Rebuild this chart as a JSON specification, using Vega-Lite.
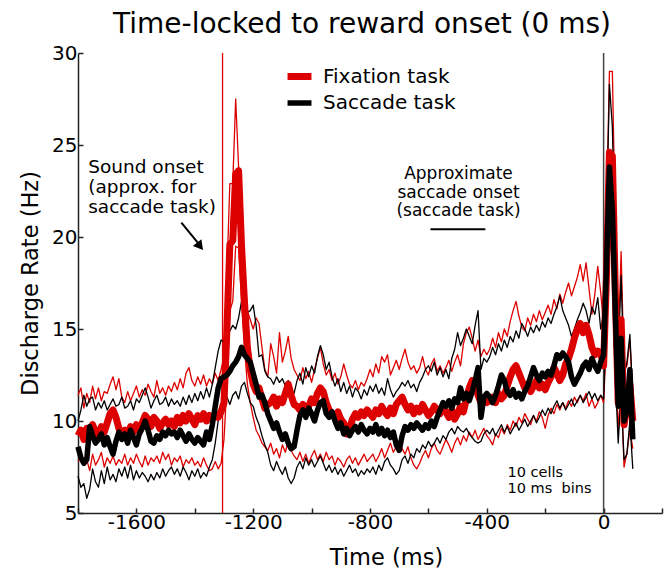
{
  "$schema": "https://vega.github.io/schema/vega-lite/v6.json",
  "width": 584,
  "height": 460,
  "autosize": "none",
  "padding": {"left": 78, "top": 53, "right": 6, "bottom": 60},
  "background": "white",
  "title": {"text": "Time-locked to reward onset (0 ms)", "fontSize": 28, "fontWeight": "normal", "font": "DejaVu Sans", "color": "black", "anchor": "middle", "frame": "group", "offset": 4, "dx": -8},
  "config": {
    "view": {"stroke": null},
    "font": "DejaVu Sans",
    "axis": {"grid": false, "domainColor": "#222", "tickColor": "#222", "domainWidth": 1.5, "tickWidth": 1.5, "tickSize": -5, "labelFont": "DejaVu Sans", "labelFontSize": 20, "labelColor": "black", "titleFont": "DejaVu Sans", "titleFontSize": 22.5, "titleFontWeight": "normal", "titleColor": "black"}
  },
  "datasets": {
    "psth": [
      {"t":-1800,"fm":9.2,"fl":7.8,"fh":11.4,"sm":8.6,"sl":7.0,"sh":10.0},
      {"t":-1790,"fm":9.5,"fl":8.1,"fh":11.8,"sm":8.0,"sl":6.4,"sh":10.6},
      {"t":-1780,"fm":9.0,"fl":7.6,"fh":10.7,"sm":7.7,"sl":6.6,"sh":11.4},
      {"t":-1770,"fm":9.6,"fl":7.9,"fh":11.5,"sm":7.9,"sl":5.8,"sh":10.8},
      {"t":-1760,"fm":9.3,"fl":7.3,"fh":11.0,"sm":9.7,"sl":6.3,"sh":11.2},
      {"t":-1750,"fm":9.8,"fl":8.2,"fh":11.9,"sm":9.2,"sl":7.4,"sh":11.3},
      {"t":-1740,"fm":9.4,"fl":7.6,"fh":11.2,"sm":8.8,"sl":6.7,"sh":10.6},
      {"t":-1730,"fm":9.1,"fl":7.9,"fh":11.8,"sm":9.0,"sl":6.4,"sh":11.0},
      {"t":-1720,"fm":9.7,"fl":8.3,"fh":11.1,"sm":9.3,"sl":7.3,"sh":10.7},
      {"t":-1710,"fm":9.4,"fl":7.5,"fh":11.6,"sm":8.7,"sl":6.6,"sh":11.1},
      {"t":-1700,"fm":9.9,"fl":8.0,"fh":11.5,"sm":9.1,"sl":7.5,"sh":10.6},
      {"t":-1690,"fm":10.4,"fl":7.7,"fh":12.0,"sm":8.6,"sl":6.8,"sh":10.9},
      {"t":-1680,"fm":10.6,"fl":8.1,"fh":12.4,"sm":8.2,"sl":7.1,"sh":11.2},
      {"t":-1670,"fm":10.2,"fl":7.6,"fh":11.7,"sm":8.9,"sl":6.7,"sh":10.8},
      {"t":-1660,"fm":9.6,"fl":7.9,"fh":12.3,"sm":9.4,"sl":7.4,"sh":10.9},
      {"t":-1650,"fm":9.3,"fl":7.7,"fh":11.3,"sm":9.0,"sl":7.0,"sh":11.3},
      {"t":-1640,"fm":9.5,"fl":8.2,"fh":11.0,"sm":9.3,"sl":7.5,"sh":10.7},
      {"t":-1630,"fm":9.2,"fl":7.6,"fh":11.6,"sm":8.8,"sl":6.9,"sh":10.8},
      {"t":-1620,"fm":9.7,"fl":8.0,"fh":11.1,"sm":9.5,"sl":7.6,"sh":11.1},
      {"t":-1610,"fm":9.4,"fl":7.7,"fh":11.5,"sm":9.1,"sl":6.8,"sh":10.6},
      {"t":-1600,"fm":9.8,"fl":8.2,"fh":11.9,"sm":8.7,"sl":7.3,"sh":11.2},
      {"t":-1590,"fm":9.5,"fl":7.8,"fh":11.3,"sm":9.3,"sl":6.9,"sh":11.0},
      {"t":-1580,"fm":9.9,"fl":7.5,"fh":11.7,"sm":9.6,"sl":7.2,"sh":11.4},
      {"t":-1570,"fm":10.3,"fl":8.1,"fh":11.4,"sm":10.0,"sl":7.0,"sh":11.8},
      {"t":-1560,"fm":10.1,"fl":7.6,"fh":12.0,"sm":9.5,"sl":6.7,"sh":11.3},
      {"t":-1550,"fm":9.7,"fl":8.0,"fh":11.6,"sm":8.9,"sl":7.1,"sh":10.7},
      {"t":-1540,"fm":10.2,"fl":7.8,"fh":11.3,"sm":8.8,"sl":6.8,"sh":11.1},
      {"t":-1530,"fm":10.0,"fl":8.1,"fh":12.2,"sm":9.2,"sl":7.2,"sh":11.4},
      {"t":-1520,"fm":9.6,"fl":7.7,"fh":11.5,"sm":9.0,"sl":6.9,"sh":10.9},
      {"t":-1510,"fm":9.9,"fl":8.3,"fh":11.8,"sm":9.4,"sl":7.4,"sh":11.0},
      {"t":-1500,"fm":10.1,"fl":7.9,"fh":11.4,"sm":9.2,"sl":7.0,"sh":11.3},
      {"t":-1490,"fm":9.8,"fl":8.2,"fh":11.9,"sm":9.5,"sl":7.3,"sh":10.8},
      {"t":-1480,"fm":10.0,"fl":7.6,"fh":11.6,"sm":9.3,"sl":7.5,"sh":11.2},
      {"t":-1470,"fm":9.7,"fl":8.0,"fh":12.1,"sm":9.4,"sl":7.1,"sh":10.9},
      {"t":-1460,"fm":10.2,"fl":7.8,"fh":11.7,"sm":9.1,"sl":7.4,"sh":11.1},
      {"t":-1450,"fm":9.9,"fl":8.1,"fh":12.3,"sm":9.5,"sl":7.0,"sh":10.8},
      {"t":-1440,"fm":10.3,"fl":7.5,"fh":11.8,"sm":9.2,"sl":7.5,"sh":11.3},
      {"t":-1430,"fm":10.0,"fl":7.9,"fh":12.6,"sm":8.9,"sl":7.2,"sh":10.9},
      {"t":-1420,"fm":10.4,"fl":7.7,"fh":12.9,"sm":9.3,"sl":6.8,"sh":11.4},
      {"t":-1410,"fm":10.1,"fl":8.0,"fh":12.2,"sm":9.0,"sl":7.3,"sh":11.0},
      {"t":-1400,"fm":9.8,"fl":7.6,"fh":11.9,"sm":8.8,"sl":7.0,"sh":11.5},
      {"t":-1390,"fm":10.3,"fl":7.8,"fh":12.4,"sm":9.1,"sl":7.4,"sh":11.1},
      {"t":-1380,"fm":10.1,"fl":7.5,"fh":12.0,"sm":8.9,"sl":6.9,"sh":11.6},
      {"t":-1370,"fm":10.4,"fl":8.0,"fh":12.5,"sm":8.7,"sl":7.2,"sh":11.2},
      {"t":-1360,"fm":10.0,"fl":7.6,"fh":11.9,"sm":9.4,"sl":7.0,"sh":11.8},
      {"t":-1350,"fm":10.3,"fl":7.3,"fh":12.3,"sm":9.0,"sl":7.5,"sh":11.3},
      {"t":-1340,"fm":10.1,"fl":7.4,"fh":12.0,"sm":9.8,"sl":7.9,"sh":12.0},
      {"t":-1330,"fm":10.4,"fl":7.8,"fh":12.6,"sm":10.8,"sl":8.8,"sh":12.9},
      {"t":-1320,"fm":10.2,"fl":7.4,"fh":12.2,"sm":11.8,"sl":10.0,"sh":13.8},
      {"t":-1310,"fm":10.5,"fl":7.7,"fh":12.8,"sm":12.3,"sl":10.5,"sh":14.4},
      {"t":-1300,"fm":11.0,"fl":9.0,"fh":13.5,"sm":12.4,"sl":10.8,"sh":14.3},
      {"t":-1290,"fm":15.0,"fl":12.0,"fh":18.0,"sm":12.5,"sl":11.3,"sh":14.6},
      {"t":-1280,"fm":19.6,"fl":16.0,"fh":22.9,"sm":12.7,"sl":10.9,"sh":14.9},
      {"t":-1270,"fm":19.8,"fl":16.5,"fh":22.9,"sm":13.0,"sl":11.4,"sh":15.2},
      {"t":-1260,"fm":23.4,"fl":19.5,"fh":27.5,"sm":13.2,"sl":11.6,"sh":15.0},
      {"t":-1250,"fm":23.6,"fl":19.4,"fh":23.8,"sm":13.5,"sl":11.2,"sh":15.6},
      {"t":-1240,"fm":19.5,"fl":16.5,"fh":21.0,"sm":14.0,"sl":11.9,"sh":16.5},
      {"t":-1230,"fm":16.5,"fl":14.0,"fh":18.0,"sm":13.6,"sl":12.1,"sh":15.8},
      {"t":-1220,"fm":14.0,"fl":12.0,"fh":16.0,"sm":13.4,"sl":11.5,"sh":15.9},
      {"t":-1210,"fm":12.8,"fl":11.0,"fh":15.5,"sm":13.2,"sl":11.0,"sh":16.0},
      {"t":-1200,"fm":12.0,"fl":10.2,"fh":15.0,"sm":12.6,"sl":10.8,"sh":16.3},
      {"t":-1190,"fm":11.6,"fl":9.5,"fh":15.6,"sm":12.0,"sl":10.2,"sh":15.2},
      {"t":-1180,"fm":11.8,"fl":9.2,"fh":15.3,"sm":11.3,"sl":9.8,"sh":13.5},
      {"t":-1170,"fm":11.2,"fl":8.8,"fh":14.0,"sm":11.4,"sl":9.2,"sh":13.6},
      {"t":-1160,"fm":10.7,"fl":8.6,"fh":12.8,"sm":11.0,"sl":8.7,"sh":12.7},
      {"t":-1150,"fm":10.9,"fl":8.4,"fh":12.4,"sm":10.4,"sl":8.3,"sh":12.4},
      {"t":-1140,"fm":11.0,"fl":8.8,"fh":14.2,"sm":10.0,"sl":7.6,"sh":12.3},
      {"t":-1130,"fm":11.3,"fl":8.2,"fh":13.5,"sm":9.6,"sl":7.3,"sh":12.0},
      {"t":-1120,"fm":10.8,"fl":8.5,"fh":12.6,"sm":9.9,"sl":7.8,"sh":12.4},
      {"t":-1110,"fm":11.2,"fl":8.0,"fh":14.8,"sm":9.4,"sl":7.4,"sh":12.1},
      {"t":-1100,"fm":11.0,"fl":8.7,"fh":13.2,"sm":9.0,"sl":7.1,"sh":12.3},
      {"t":-1090,"fm":11.5,"fl":8.3,"fh":13.8,"sm":9.3,"sl":7.5,"sh":11.9},
      {"t":-1080,"fm":12.0,"fl":8.9,"fh":14.6,"sm":8.8,"sl":6.9,"sh":12.2},
      {"t":-1070,"fm":11.4,"fl":8.4,"fh":13.4,"sm":8.5,"sl":6.6,"sh":11.7},
      {"t":-1060,"fm":10.9,"fl":8.1,"fh":12.8,"sm":8.6,"sl":6.9,"sh":11.5},
      {"t":-1050,"fm":10.8,"fl":7.9,"fh":12.5,"sm":9.5,"sl":7.5,"sh":12.2},
      {"t":-1040,"fm":10.6,"fl":8.3,"fh":12.2,"sm":10.3,"sl":7.8,"sh":12.6},
      {"t":-1030,"fm":10.9,"fl":7.8,"fh":12.9,"sm":10.6,"sl":7.4,"sh":12.0},
      {"t":-1020,"fm":10.5,"fl":8.2,"fh":12.3,"sm":10.2,"sl":8.0,"sh":12.9},
      {"t":-1010,"fm":10.8,"fl":7.7,"fh":12.7,"sm":10.7,"sl":7.6,"sh":12.4},
      {"t":-1000,"fm":11.2,"fl":8.1,"fh":12.1,"sm":10.4,"sl":7.9,"sh":13.0},
      {"t":-990,"fm":11.0,"fl":8.4,"fh":12.8,"sm":10.0,"sl":7.5,"sh":12.6},
      {"t":-980,"fm":11.5,"fl":7.9,"fh":13.4,"sm":10.6,"sl":7.8,"sh":13.5},
      {"t":-970,"fm":11.8,"fl":8.2,"fh":14.0,"sm":11.0,"sl":8.1,"sh":14.1},
      {"t":-960,"fm":11.6,"fl":7.8,"fh":13.1,"sm":11.1,"sl":7.7,"sh":13.6},
      {"t":-950,"fm":11.0,"fl":8.3,"fh":12.5,"sm":10.4,"sl":7.3,"sh":12.8},
      {"t":-940,"fm":10.6,"fl":7.9,"fh":12.8,"sm":10.2,"sl":7.6,"sh":13.2},
      {"t":-930,"fm":10.4,"fl":8.1,"fh":12.2,"sm":10.5,"sl":7.2,"sh":12.4},
      {"t":-920,"fm":10.2,"fl":7.6,"fh":12.6,"sm":10.0,"sl":7.5,"sh":11.9},
      {"t":-910,"fm":10.5,"fl":8.0,"fh":12.0,"sm":9.6,"sl":7.1,"sh":12.3},
      {"t":-900,"fm":10.1,"fl":7.8,"fh":12.4,"sm":9.9,"sl":7.4,"sh":11.6},
      {"t":-890,"fm":9.9,"fl":7.5,"fh":13.1,"sm":9.3,"sl":7.0,"sh":12.1},
      {"t":-880,"fm":9.3,"fl":7.9,"fh":12.5,"sm":9.6,"sl":7.3,"sh":11.5},
      {"t":-870,"fm":9.6,"fl":8.1,"fh":12.0,"sm":9.2,"sl":7.6,"sh":11.9},
      {"t":-860,"fm":10.1,"fl":7.7,"fh":11.8,"sm":9.5,"sl":7.2,"sh":11.3},
      {"t":-850,"fm":10.4,"fl":8.0,"fh":12.2,"sm":9.7,"sl":7.4,"sh":11.8},
      {"t":-840,"fm":10.2,"fl":7.6,"fh":11.7,"sm":9.4,"sl":7.0,"sh":11.6},
      {"t":-830,"fm":10.5,"fl":7.9,"fh":12.1,"sm":9.8,"sl":7.3,"sh":11.2},
      {"t":-820,"fm":10.3,"fl":8.2,"fh":11.9,"sm":9.5,"sl":7.1,"sh":11.7},
      {"t":-810,"fm":10.6,"fl":7.8,"fh":12.3,"sm":9.3,"sl":7.4,"sh":11.4},
      {"t":-800,"fm":10.4,"fl":8.0,"fh":12.8,"sm":9.6,"sl":7.2,"sh":11.9},
      {"t":-790,"fm":10.2,"fl":8.2,"fh":12.4,"sm":9.4,"sl":7.5,"sh":11.6},
      {"t":-780,"fm":10.6,"fl":7.8,"fh":13.1,"sm":9.8,"sl":7.1,"sh":12.0},
      {"t":-770,"fm":10.4,"fl":8.1,"fh":12.6,"sm":9.3,"sl":7.6,"sh":11.5},
      {"t":-760,"fm":10.8,"fl":8.5,"fh":13.5,"sm":9.6,"sl":7.3,"sh":11.8},
      {"t":-750,"fm":10.5,"fl":8.0,"fh":13.2,"sm":9.2,"sl":7.8,"sh":11.4},
      {"t":-740,"fm":10.3,"fl":8.4,"fh":13.6,"sm":9.5,"sl":8.0,"sh":12.3},
      {"t":-730,"fm":10.7,"fl":8.8,"fh":12.5,"sm":9.1,"sl":7.6,"sh":11.7},
      {"t":-720,"fm":10.4,"fl":8.3,"fh":12.9,"sm":9.4,"sl":7.4,"sh":11.3},
      {"t":-710,"fm":10.9,"fl":8.6,"fh":13.3,"sm":8.7,"sl":7.1,"sh":11.6},
      {"t":-700,"fm":11.1,"fl":8.9,"fh":12.8,"sm":8.4,"sl":7.3,"sh":11.8},
      {"t":-690,"fm":11.3,"fl":8.5,"fh":13.4,"sm":9.2,"sl":7.9,"sh":12.1},
      {"t":-680,"fm":10.9,"fl":8.2,"fh":13.9,"sm":9.7,"sl":8.1,"sh":11.9},
      {"t":-670,"fm":10.6,"fl":8.6,"fh":13.2,"sm":9.5,"sl":7.7,"sh":12.2},
      {"t":-660,"fm":10.8,"fl":8.0,"fh":12.8,"sm":9.8,"sl":8.2,"sh":11.8},
      {"t":-650,"fm":10.4,"fl":7.6,"fh":13.0,"sm":9.6,"sl":8.0,"sh":12.0},
      {"t":-640,"fm":10.7,"fl":7.4,"fh":12.6,"sm":9.9,"sl":8.5,"sh":11.6},
      {"t":-630,"fm":10.5,"fl":7.7,"fh":12.9,"sm":9.7,"sl":8.3,"sh":12.1},
      {"t":-620,"fm":10.9,"fl":8.1,"fh":13.5,"sm":9.5,"sl":8.7,"sh":12.4},
      {"t":-610,"fm":10.6,"fl":8.4,"fh":12.8,"sm":9.8,"sl":8.5,"sh":12.8},
      {"t":-600,"fm":10.3,"fl":8.0,"fh":12.5,"sm":9.6,"sl":8.9,"sh":13.0},
      {"t":-590,"fm":10.5,"fl":8.5,"fh":13.1,"sm":10.0,"sl":8.6,"sh":12.7},
      {"t":-580,"fm":10.8,"fl":8.8,"fh":13.4,"sm":9.7,"sl":8.8,"sh":13.2},
      {"t":-570,"fm":10.6,"fl":8.4,"fh":12.7,"sm":10.2,"sl":9.1,"sh":12.5},
      {"t":-560,"fm":10.4,"fl":8.2,"fh":13.0,"sm":10.6,"sl":8.8,"sh":12.9},
      {"t":-550,"fm":10.7,"fl":8.6,"fh":12.6,"sm":11.0,"sl":9.2,"sh":12.4},
      {"t":-540,"fm":10.5,"fl":9.0,"fh":12.9,"sm":10.8,"sl":9.0,"sh":12.8},
      {"t":-530,"fm":10.2,"fl":8.7,"fh":13.3,"sm":11.1,"sl":9.4,"sh":12.3},
      {"t":-520,"fm":10.6,"fl":8.3,"fh":12.7,"sm":10.7,"sl":9.6,"sh":13.4},
      {"t":-510,"fm":10.1,"fl":8.8,"fh":13.2,"sm":11.2,"sl":9.3,"sh":13.9},
      {"t":-500,"fm":10.4,"fl":9.1,"fh":13.6,"sm":11.0,"sl":9.7,"sh":14.8},
      {"t":-490,"fm":10.8,"fl":8.7,"fh":13.0,"sm":11.8,"sl":9.5,"sh":14.1},
      {"t":-480,"fm":10.5,"fl":9.2,"fh":14.2,"sm":11.2,"sl":9.4,"sh":14.5},
      {"t":-470,"fm":11.2,"fl":8.9,"fh":14.8,"sm":11.5,"sl":9.6,"sh":15.0},
      {"t":-460,"fm":11.8,"fl":9.4,"fh":15.1,"sm":11.1,"sl":9.3,"sh":14.6},
      {"t":-450,"fm":12.2,"fl":9.1,"fh":14.5,"sm":11.6,"sl":9.1,"sh":14.2},
      {"t":-440,"fm":11.9,"fl":9.5,"fh":13.8,"sm":12.2,"sl":8.9,"sh":15.2},
      {"t":-430,"fm":11.4,"fl":9.0,"fh":14.4,"sm":12.9,"sl":8.8,"sh":16.0},
      {"t":-420,"fm":11.0,"fl":9.3,"fh":13.5,"sm":10.2,"sl":8.9,"sh":12.8},
      {"t":-410,"fm":11.2,"fl":9.6,"fh":13.9,"sm":11.3,"sl":9.3,"sh":13.4},
      {"t":-400,"fm":11.0,"fl":9.2,"fh":13.6,"sm":11.5,"sl":9.5,"sh":13.2},
      {"t":-390,"fm":11.1,"fl":9.0,"fh":13.9,"sm":11.3,"sl":9.3,"sh":13.5},
      {"t":-380,"fm":11.3,"fl":8.7,"fh":14.5,"sm":11.0,"sl":9.6,"sh":14.0},
      {"t":-370,"fm":11.0,"fl":9.3,"fh":14.0,"sm":11.4,"sl":9.2,"sh":13.6},
      {"t":-360,"fm":11.5,"fl":9.1,"fh":14.8,"sm":11.9,"sl":9.5,"sh":14.2},
      {"t":-350,"fm":11.2,"fl":9.6,"fh":14.3,"sm":12.5,"sl":9.8,"sh":13.8},
      {"t":-340,"fm":11.4,"fl":9.3,"fh":15.0,"sm":12.2,"sl":9.4,"sh":14.4},
      {"t":-330,"fm":11.9,"fl":9.8,"fh":14.6,"sm":11.6,"sl":9.7,"sh":14.0},
      {"t":-320,"fm":12.4,"fl":9.5,"fh":15.4,"sm":11.4,"sl":9.3,"sh":14.6},
      {"t":-310,"fm":12.8,"fl":10.0,"fh":16.0,"sm":11.7,"sl":9.6,"sh":14.3},
      {"t":-300,"fm":13.0,"fl":9.7,"fh":16.5,"sm":11.3,"sl":9.9,"sh":14.9},
      {"t":-290,"fm":12.6,"fl":10.2,"fh":15.7,"sm":11.5,"sl":9.5,"sh":14.5},
      {"t":-280,"fm":12.2,"fl":9.9,"fh":15.1,"sm":11.2,"sl":9.8,"sh":15.3},
      {"t":-270,"fm":11.8,"fl":10.4,"fh":14.9,"sm":11.6,"sl":10.1,"sh":15.0},
      {"t":-260,"fm":12.0,"fl":10.1,"fh":15.6,"sm":11.9,"sl":9.7,"sh":14.6},
      {"t":-250,"fm":11.6,"fl":9.8,"fh":15.2,"sm":12.4,"sl":10.0,"sh":15.1},
      {"t":-240,"fm":11.9,"fl":10.3,"fh":15.8,"sm":12.9,"sl":10.3,"sh":14.8},
      {"t":-230,"fm":12.2,"fl":10.0,"fh":15.4,"sm":12.5,"sl":9.9,"sh":15.2},
      {"t":-220,"fm":11.8,"fl":10.5,"fh":16.0,"sm":12.2,"sl":10.2,"sh":14.9},
      {"t":-210,"fm":12.0,"fl":10.2,"fh":15.5,"sm":12.6,"sl":10.6,"sh":15.4},
      {"t":-200,"fm":11.7,"fl":9.6,"fh":15.9,"sm":12.4,"sl":10.3,"sh":15.1},
      {"t":-190,"fm":12.1,"fl":10.3,"fh":16.3,"sm":12.7,"sl":10.7,"sh":15.6},
      {"t":-180,"fm":12.4,"fl":10.7,"fh":15.8,"sm":12.5,"sl":10.4,"sh":15.3},
      {"t":-170,"fm":12.9,"fl":10.4,"fh":16.6,"sm":13.0,"sl":10.8,"sh":15.8},
      {"t":-160,"fm":12.6,"fl":10.9,"fh":16.1,"sm":13.6,"sl":11.1,"sh":16.2},
      {"t":-150,"fm":12.2,"fl":10.6,"fh":16.9,"sm":13.4,"sl":10.7,"sh":16.8},
      {"t":-140,"fm":12.5,"fl":11.0,"fh":16.4,"sm":13.7,"sl":11.0,"sh":16.0},
      {"t":-130,"fm":13.1,"fl":10.7,"fh":17.0,"sm":13.5,"sl":10.6,"sh":15.6},
      {"t":-120,"fm":13.4,"fl":11.1,"fh":17.5,"sm":13.2,"sl":10.9,"sh":15.2},
      {"t":-110,"fm":13.9,"fl":10.8,"fh":16.8,"sm":12.4,"sl":11.2,"sh":14.6},
      {"t":-100,"fm":14.5,"fl":11.3,"fh":17.3,"sm":12.0,"sl":10.8,"sh":15.0},
      {"t":-90,"fm":15.0,"fl":11.0,"fh":17.8,"sm":12.3,"sl":11.1,"sh":15.5},
      {"t":-80,"fm":15.3,"fl":11.4,"fh":18.5,"sm":12.6,"sl":11.4,"sh":15.9},
      {"t":-70,"fm":14.8,"fl":11.1,"fh":17.6,"sm":13.0,"sl":11.0,"sh":16.4},
      {"t":-60,"fm":15.2,"fl":11.5,"fh":18.6,"sm":13.2,"sl":11.3,"sh":16.0},
      {"t":-50,"fm":14.7,"fl":10.8,"fh":17.2,"sm":12.8,"sl":11.6,"sh":15.3},
      {"t":-40,"fm":14.0,"fl":11.2,"fh":15.8,"sm":13.4,"sl":11.2,"sh":16.2},
      {"t":-30,"fm":13.6,"fl":10.7,"fh":16.9,"sm":13.0,"sl":11.5,"sh":15.8},
      {"t":-20,"fm":13.8,"fl":11.0,"fh":18.4,"sm":12.7,"sl":11.1,"sh":16.7},
      {"t":-10,"fm":13.7,"fl":11.4,"fh":17.0,"sm":13.2,"sl":11.4,"sh":15.0},
      {"t":0,"fm":13.0,"fl":11.0,"fh":15.2,"sm":13.6,"sl":11.2,"sh":15.8},
      {"t":10,"fm":18.0,"fl":14.5,"fh":21.5,"sm":18.5,"sl":15.5,"sh":21.0},
      {"t":20,"fm":24.6,"fl":21.0,"fh":29.0,"sm":23.8,"sl":20.5,"sh":28.3},
      {"t":30,"fm":24.4,"fl":20.5,"fh":29.0,"sm":21.5,"sl":18.5,"sh":26.0},
      {"t":40,"fm":17.0,"fl":13.5,"fh":20.5,"sm":16.0,"sl":12.5,"sh":19.0},
      {"t":50,"fm":11.0,"fl":9.5,"fh":14.0,"sm":10.8,"sl":8.8,"sh":13.5},
      {"t":60,"fm":15.5,"fl":12.0,"fh":19.2,"sm":14.5,"sl":11.5,"sh":17.9},
      {"t":70,"fm":9.8,"fl":7.5,"fh":12.8,"sm":10.0,"sl":7.9,"sh":12.5},
      {"t":80,"fm":10.8,"fl":8.3,"fh":13.0,"sm":10.6,"sl":8.2,"sh":13.2},
      {"t":90,"fm":12.0,"fl":9.5,"fh":14.4,"sm":12.8,"sl":10.0,"sh":14.7},
      {"t":100,"fm":10.0,"fl":8.5,"fh":11.5,"sm":9.0,"sl":7.4,"sh":11.2}
    ],
    "sound": [
      {"t": -1765, "v": 23.49, "text": "Sound onset"},
      {"t": -1765, "v": 22.41, "text": "(approx. for"},
      {"t": -1765, "v": 21.30, "text": "saccade task)"}
    ],
    "sacc": [
      {"t": -497, "v": 23.14, "text": "Approximate"},
      {"t": -497, "v": 22.14, "text": "saccade onset"},
      {"t": -497, "v": 21.13, "text": "(saccade task)"}
    ],
    "cells": [
      {"t": -329, "v": 6.94, "text": "10 cells"},
      {"t": -329, "v": 6.07, "text": "10 ms\u00a0 bins"}
    ]
  },
  "layer": [
    {
      "data": {"values": [{"t": -1305}]},
      "mark": {"type": "rule", "color": "#dd0000", "strokeWidth": 1.3},
      "encoding": {"x": {"field": "t", "type": "quantitative", "scale": {"domain": [-1800, 200], "nice": false, "zero": false}}}
    },
    {
      "data": {"values": [{"t": 0}]},
      "mark": {"type": "rule", "color": "#444444", "strokeWidth": 1.5},
      "encoding": {"x": {"field": "t", "type": "quantitative"}}
    },
    {
      "data": {"name": "psth"},
      "transform": [{"fold": ["fl", "fh"], "as": ["k", "v"]}],
      "mark": {"type": "line", "color": "#dd0000", "strokeWidth": 1.3, "strokeJoin": "round"},
      "encoding": {
        "x": {"field": "t", "type": "quantitative"},
        "y": {"field": "v", "type": "quantitative"},
        "detail": {"field": "k"}
      }
    },
    {
      "data": {"name": "psth"},
      "transform": [{"fold": ["sl", "sh"], "as": ["k", "v"]}],
      "mark": {"type": "line", "color": "#000000", "strokeWidth": 1.3, "strokeJoin": "round"},
      "encoding": {
        "x": {"field": "t", "type": "quantitative"},
        "y": {"field": "v", "type": "quantitative"},
        "detail": {"field": "k"}
      }
    },
    {
      "data": {"name": "psth"},
      "transform": [{"fold": ["fm", "sm"], "as": ["task", "v"]}],
      "mark": {"type": "line", "strokeJoin": "round"},
      "encoding": {
        "x": {"field": "t", "type": "quantitative", "title": "Time (ms)",
              "axis": {"values": [-1800,-1600,-1400,-1200,-1000,-800,-600,-400,-200,0,200], "labelExpr": "datum.value % 400 == 0 && datum.value > -1800 ? '' + datum.value : ''", "labelPadding": 4, "titlePadding": 14, "titleX": 308, "labelFlush": false}},
        "y": {"field": "v", "type": "quantitative", "title": "Discharge Rate (Hz)", "scale": {"domain": [5, 30], "nice": false, "zero": false},
              "axis": {"values": [5,10,15,20,25,30], "labelPadding": 6, "titlePadding": 9}},
        "color": {"field": "task", "type": "nominal", "scale": {"domain": ["fm", "sm"], "range": ["#dd0000", "#000000"]},
                  "legend": {"orient": "none", "legendX": 208.5, "legendY": 10.5, "title": null, "padding": 0, "labelExpr": "datum.value == 'fm' ? 'Fixation task' : 'Saccade task'", "symbolType": "M-1.26,0H1.26", "symbolStrokeWidth": 6, "symbolSize": 361, "labelFontSize": 20, "labelFont": "DejaVu Sans", "labelColor": "black", "labelOffset": 10.5, "rowPadding": 0}},
        "strokeWidth": {"field": "task", "type": "nominal", "scale": {"domain": ["fm", "sm"], "range": [7, 5.5]}, "legend": null}
      }
    },
    {
      "data": {"values": [{"t": -1446, "v": 20.78}, {"t": -1385, "v": 19.6}]},
      "mark": {"type": "line", "color": "black", "strokeWidth": 2},
      "encoding": {"x": {"field": "t", "type": "quantitative"}, "y": {"field": "v", "type": "quantitative"}}
    },
    {
      "data": {"values": [{"t": -1382, "v": 19.49}]},
      "mark": {"type": "point", "shape": "triangle-up", "filled": true, "color": "black", "size": 120, "angle": 141.5, "opacity": 1},
      "encoding": {"x": {"field": "t", "type": "quantitative"}, "y": {"field": "v", "type": "quantitative"}}
    },
    {
      "data": {"values": [{"t1": -593, "t2": -405, "v": 20.42}]},
      "mark": {"type": "rule", "color": "black", "strokeWidth": 2},
      "encoding": {"x": {"field": "t1", "type": "quantitative"}, "x2": {"field": "t2"}, "y": {"field": "v", "type": "quantitative"}}
    },
    {
      "data": {"name": "sound"},
      "mark": {"type": "text", "align": "left", "baseline": "alphabetic", "fontSize": 18.5, "font": "DejaVu Sans", "color": "black"},
      "encoding": {"x": {"field": "t", "type": "quantitative"}, "y": {"field": "v", "type": "quantitative"}, "text": {"field": "text"}}
    },
    {
      "data": {"name": "sacc"},
      "mark": {"type": "text", "align": "center", "baseline": "alphabetic", "fontSize": 17, "font": "DejaVu Sans", "color": "black"},
      "encoding": {"x": {"field": "t", "type": "quantitative"}, "y": {"field": "v", "type": "quantitative"}, "text": {"field": "text"}}
    },
    {
      "data": {"name": "cells"},
      "mark": {"type": "text", "align": "left", "baseline": "alphabetic", "fontSize": 14.5, "font": "DejaVu Sans", "color": "black"},
      "encoding": {"x": {"field": "t", "type": "quantitative"}, "y": {"field": "v", "type": "quantitative"}, "text": {"field": "text"}}
    }
  ]
}
